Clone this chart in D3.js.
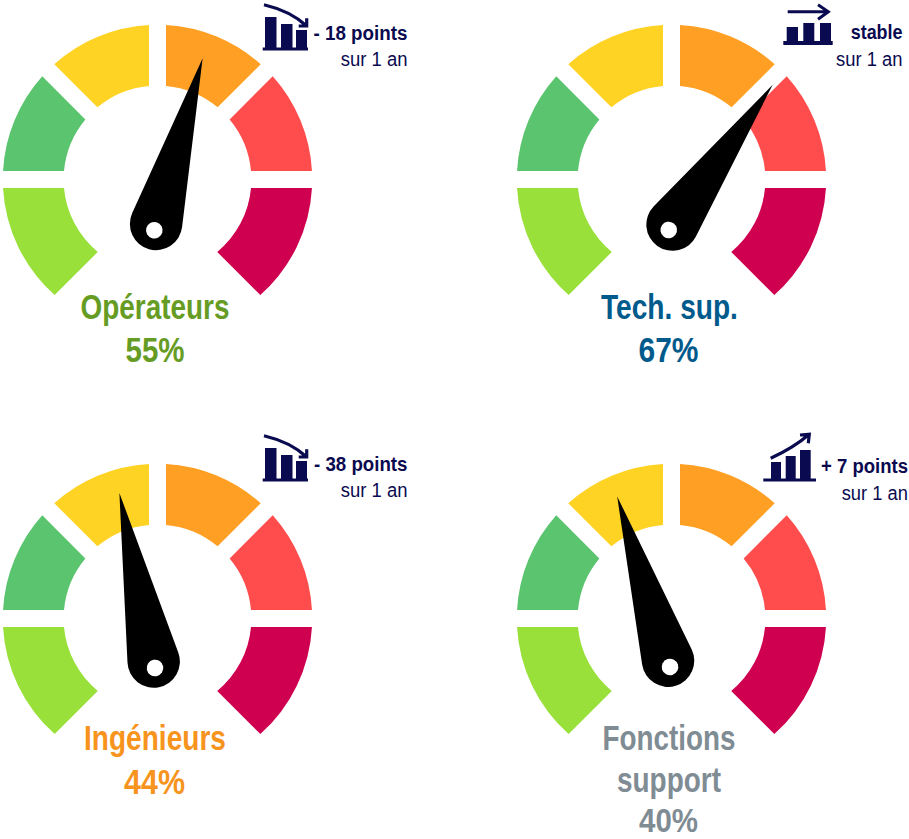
<!DOCTYPE html>
<html><head><meta charset="utf-8">
<script src="https://cdn.jsdelivr.net/npm/d3@7"></script>
<style>html,body{margin:0;background:#fff}svg{display:block}text{font-family:"Liberation Sans",Arial,sans-serif}</style>
</head><body><svg id="c" width="909" height="839"></svg>
<script>
// ---- data ----
const groups = [["Opérateurs"], ["Tech. sup."], ["Ingénieurs"], ["Fonctions", "support"]];
const scores = [55, 67, 44, 40];
const deltas = ["- 18 points", "stable", "- 38 points", "+ 7 points"];
const periods = ["sur 1 an", "sur 1 an", "sur 1 an", "sur 1 an"];
const trends = ["down", "flat", "down", "up"];
const segmentWeights = [1, 1, 1, 1, 1, 1];
const needleDomain = [40, 44, 55, 67];
const needleDegrees = [-17.2, -11.5, 15.7, 35.6];

// ---- styles and layout ----
const segmentColors = ["#99E03B", "#5AC46E", "#FFD324", "#FFA024", "#FF4D4D", "#CF004F"];
const labelColors = ["#669C24", "#005A8C", "#F7941D", "#7F8C94"];
const navy = "#0A0A50";
const gaugeCenters = [[157.5, 179.5], [671.5, 179.5], [157.5, 618.5], [671.5, 618.5]];
const pivots = [[154.3, 230.3], [668.7, 230], [155, 668], [670, 667]];
const iconOrigins = [[262.7, 49], [783.3, 43], [262.7, 480], [763.3, 480]];
const deltaBox = [[313.5, 407.5, 40], [850.7, 902.5, 39.3], [314, 407.5, 470.7], [821, 908, 473]];
const periodBox = [[340.7, 407.5, 65.7], [836, 902.5, 65.7], [340.7, 407.5, 496.7], [841.7, 908, 500]];
const labelLines = [
  [[155, 149, 318.5], [155, 59, 362]],
  [[669.5, 137, 318.5], [668.5, 60, 362]],
  [[155, 142, 749.5], [154.5, 61, 794]],
  [[669, 133, 750], [669, 104, 792], [668.5, 59, 831.7, 34]]
];

const svg = d3.select("#c");
const rad = d => d * Math.PI / 180;
const pie = d3.pie().sort(null).startAngle(rad(-135)).endAngle(rad(135));
const needleAngle = d3.scaleLinear().domain(needleDomain).range(needleDegrees);
const R0 = 93.9, R1 = 154.7, HALF_GAP = 8.5, END_OVERHANG = -9;

// Ring segment with straight, parallel side edges. `s0`/`s1` = perpendicular inset of each edge from its radial line.
function segmentPath(d, k, n) {
  const s0 = k === 0 ? END_OVERHANG : HALF_GAP;
  const s1 = k === n - 1 ? END_OVERHANG : HALF_GAP;
  const at = (a, s, r) => a + Math.asin(s / r) - Math.PI / 2;
  const p = d3.path();
  const o0 = at(d.startAngle, s0, R1), o1 = d.endAngle - Math.asin(s1 / R1) - Math.PI / 2;
  const i0 = at(d.startAngle, s0, R0), i1 = d.endAngle - Math.asin(s1 / R0) - Math.PI / 2;
  p.moveTo(R1 * Math.cos(o0), R1 * Math.sin(o0));
  p.arc(0, 0, R1, o0, o1, false);
  p.lineTo(R0 * Math.cos(i1), R0 * Math.sin(i1));
  p.arc(0, 0, R0, i1, i0, true);
  p.closePath();
  return p.toString();
}

function needlePath(L, r) {
  const ty = -r * r / L, tx = Math.sqrt(r * r - ty * ty);
  const p = d3.path();
  p.moveTo(0, -L);
  p.lineTo(tx, ty);
  p.arc(0, 0, r, Math.atan2(ty, tx), Math.atan2(ty, -tx), false);
  p.closePath();
  return p.toString();
}

// Places a text so that it spans exactly `width` px, squeezing it horizontally.
function squeezed(str, left, baseline, width, size, weight, color) {
  const t = svg.append("text").attr("font-size", size).attr("font-weight", weight).attr("fill", color).text(str);
  const natural = t.node().getComputedTextLength();
  t.attr("transform", `translate(${left},${baseline}) scale(${width / natural},1)`);
  return t;
}

const icons = {
  down: { w: 45.3, t: 3, bars: [[2.3, 11.5, 32], [18.3, 11.5, 25], [33.3, 11, 19]],
          arrow: "M1.3,-44.3Q28,-38 44,-23M44,-30.7L44,-23L36,-23", sw: 3.2 },
  flat: { w: 49.4, t: 4, bars: [[3.4, 11.3, 16], [20, 11, 20], [36.7, 11, 20]],
          arrow: "M4.4,-31.3H45M34.7,-38.3L45,-31.3L34.7,-23.7", sw: 3 },
  up:   { w: 52.7, t: 3, bars: [[7.7, 10, 18], [22.4, 10, 24], [36.7, 10.7, 30]],
          arrow: "M7.4,-21.7Q30,-32 46,-45.7M36.7,-45L46,-45.7L45,-36.7", sw: 3.2 }
};

scores.forEach((score, i) => {
  const g = svg.append("g").attr("transform", `translate(${gaugeCenters[i]})`);
  const arcs = pie(segmentWeights);
  g.selectAll("path").data(arcs).join("path")
    .attr("d", (d, k) => segmentPath(d, k, arcs.length)).attr("fill", (d, k) => segmentColors[k]);

  const n = svg.append("g").attr("transform", `translate(${pivots[i]}) rotate(${needleAngle(score)})`);
  n.append("path").attr("transform", "translate(0,-6.6)").attr("d", needlePath(172, 26.2)).attr("fill", "#000");
  n.append("circle").attr("r", 8.3).attr("fill", "#fff");

  const ic = icons[trends[i]];
  const ig = svg.append("g").attr("transform", `translate(${iconOrigins[i]})`);
  ig.append("rect").attr("x", 0).attr("y", -ic.t / 2).attr("width", ic.w).attr("height", ic.t).attr("fill", navy);
  ig.selectAll("rect.b").data(ic.bars).join("rect").attr("class", "b")
    .attr("x", d => d[0]).attr("width", d => d[1]).attr("y", d => -d[2]).attr("height", d => d[2]).attr("fill", navy);
  ig.append("path").attr("d", ic.arrow).attr("fill", "none").attr("stroke", navy).attr("stroke-width", ic.sw);

  const db = deltaBox[i], pb = periodBox[i];
  squeezed(deltas[i], db[0], db[2], db[1] - db[0], 21, "bold", navy);
  squeezed(periods[i], pb[0], pb[2], pb[1] - pb[0], 21, "normal", navy);

  const lines = [...groups[i], score + "%"];
  lines.forEach((t, k) => {
    const b = labelLines[i][k];
    squeezed(t, b[0] - b[1] / 2, b[2], b[1], b[3] || 35, "bold", labelColors[i]);
  });
});
</script></body></html>
